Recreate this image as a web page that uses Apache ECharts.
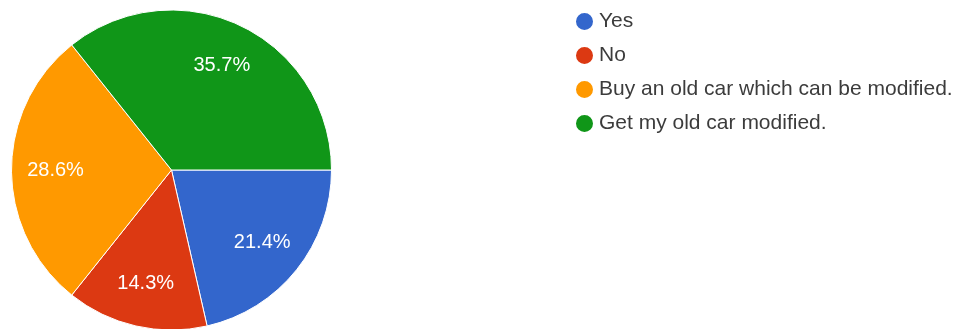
<!DOCTYPE html>
<html>
<head>
<meta charset="utf-8">
<script src="https://cdn.jsdelivr.net/npm/echarts@6/dist/echarts.min.js"></script>
<style>
  html, body { margin: 0; padding: 0; background: #fff; }
  #chart { width: 965px; height: 329px; }
</style>
</head>
<body>
<div id="chart"></div>
<script>
// Survey answers and response counts
const categories = ['Yes', 'No', 'Buy an old car which can be modified.', 'Get my old car modified.'];
const responses = [3, 2, 4, 5];
const colors = ['#3366cc', '#dc3912', '#ff9900', '#109618'];

const pieData = categories.map((name, i) => ({ name, value: responses[i] }));
const fontFamily = 'Liberation Sans, Arial, sans-serif';

const chart = echarts.init(document.getElementById('chart'), null, { renderer: 'canvas' });
chart.setOption({
  animation: false,
  color: colors,
  legend: {
    orient: 'vertical',
    left: 569,
    top: 6,
    icon: 'circle',
    itemWidth: 19,
    itemHeight: 19,
    itemGap: 13,
    selectedMode: false,
    textStyle: { fontFamily, fontSize: 21, color: '#3c3c3c', padding: [0, 0, 0, 0] },
    data: categories
  },
  series: [
    {
      type: 'pie',
      center: [171.5, 170],
      radius: [0, 160],
      startAngle: 0,
      clockwise: true,
      avoidLabelOverlap: false,
      itemStyle: { borderColor: '#fff', borderWidth: 1 },
      label: { show: false },
      labelLine: { show: false },
      emphasis: { disabled: true },
      data: pieData
    },
    {
      // transparent ring used only to place the percentage labels further out
      type: 'pie',
      center: [171.5, 170],
      radius: [66, 160],
      startAngle: 0,
      clockwise: true,
      silent: true,
      percentPrecision: 1,
      itemStyle: { color: 'rgba(0,0,0,0)', borderWidth: 0 },
      label: {
        show: true,
        position: 'inside',
        formatter: '{d}%',
        color: '#fff',
        fontFamily,
        fontSize: 20
      },
      labelLine: { show: false },
      emphasis: { disabled: true },
      data: pieData
    }
  ]
});
</script>
</body>
</html>
